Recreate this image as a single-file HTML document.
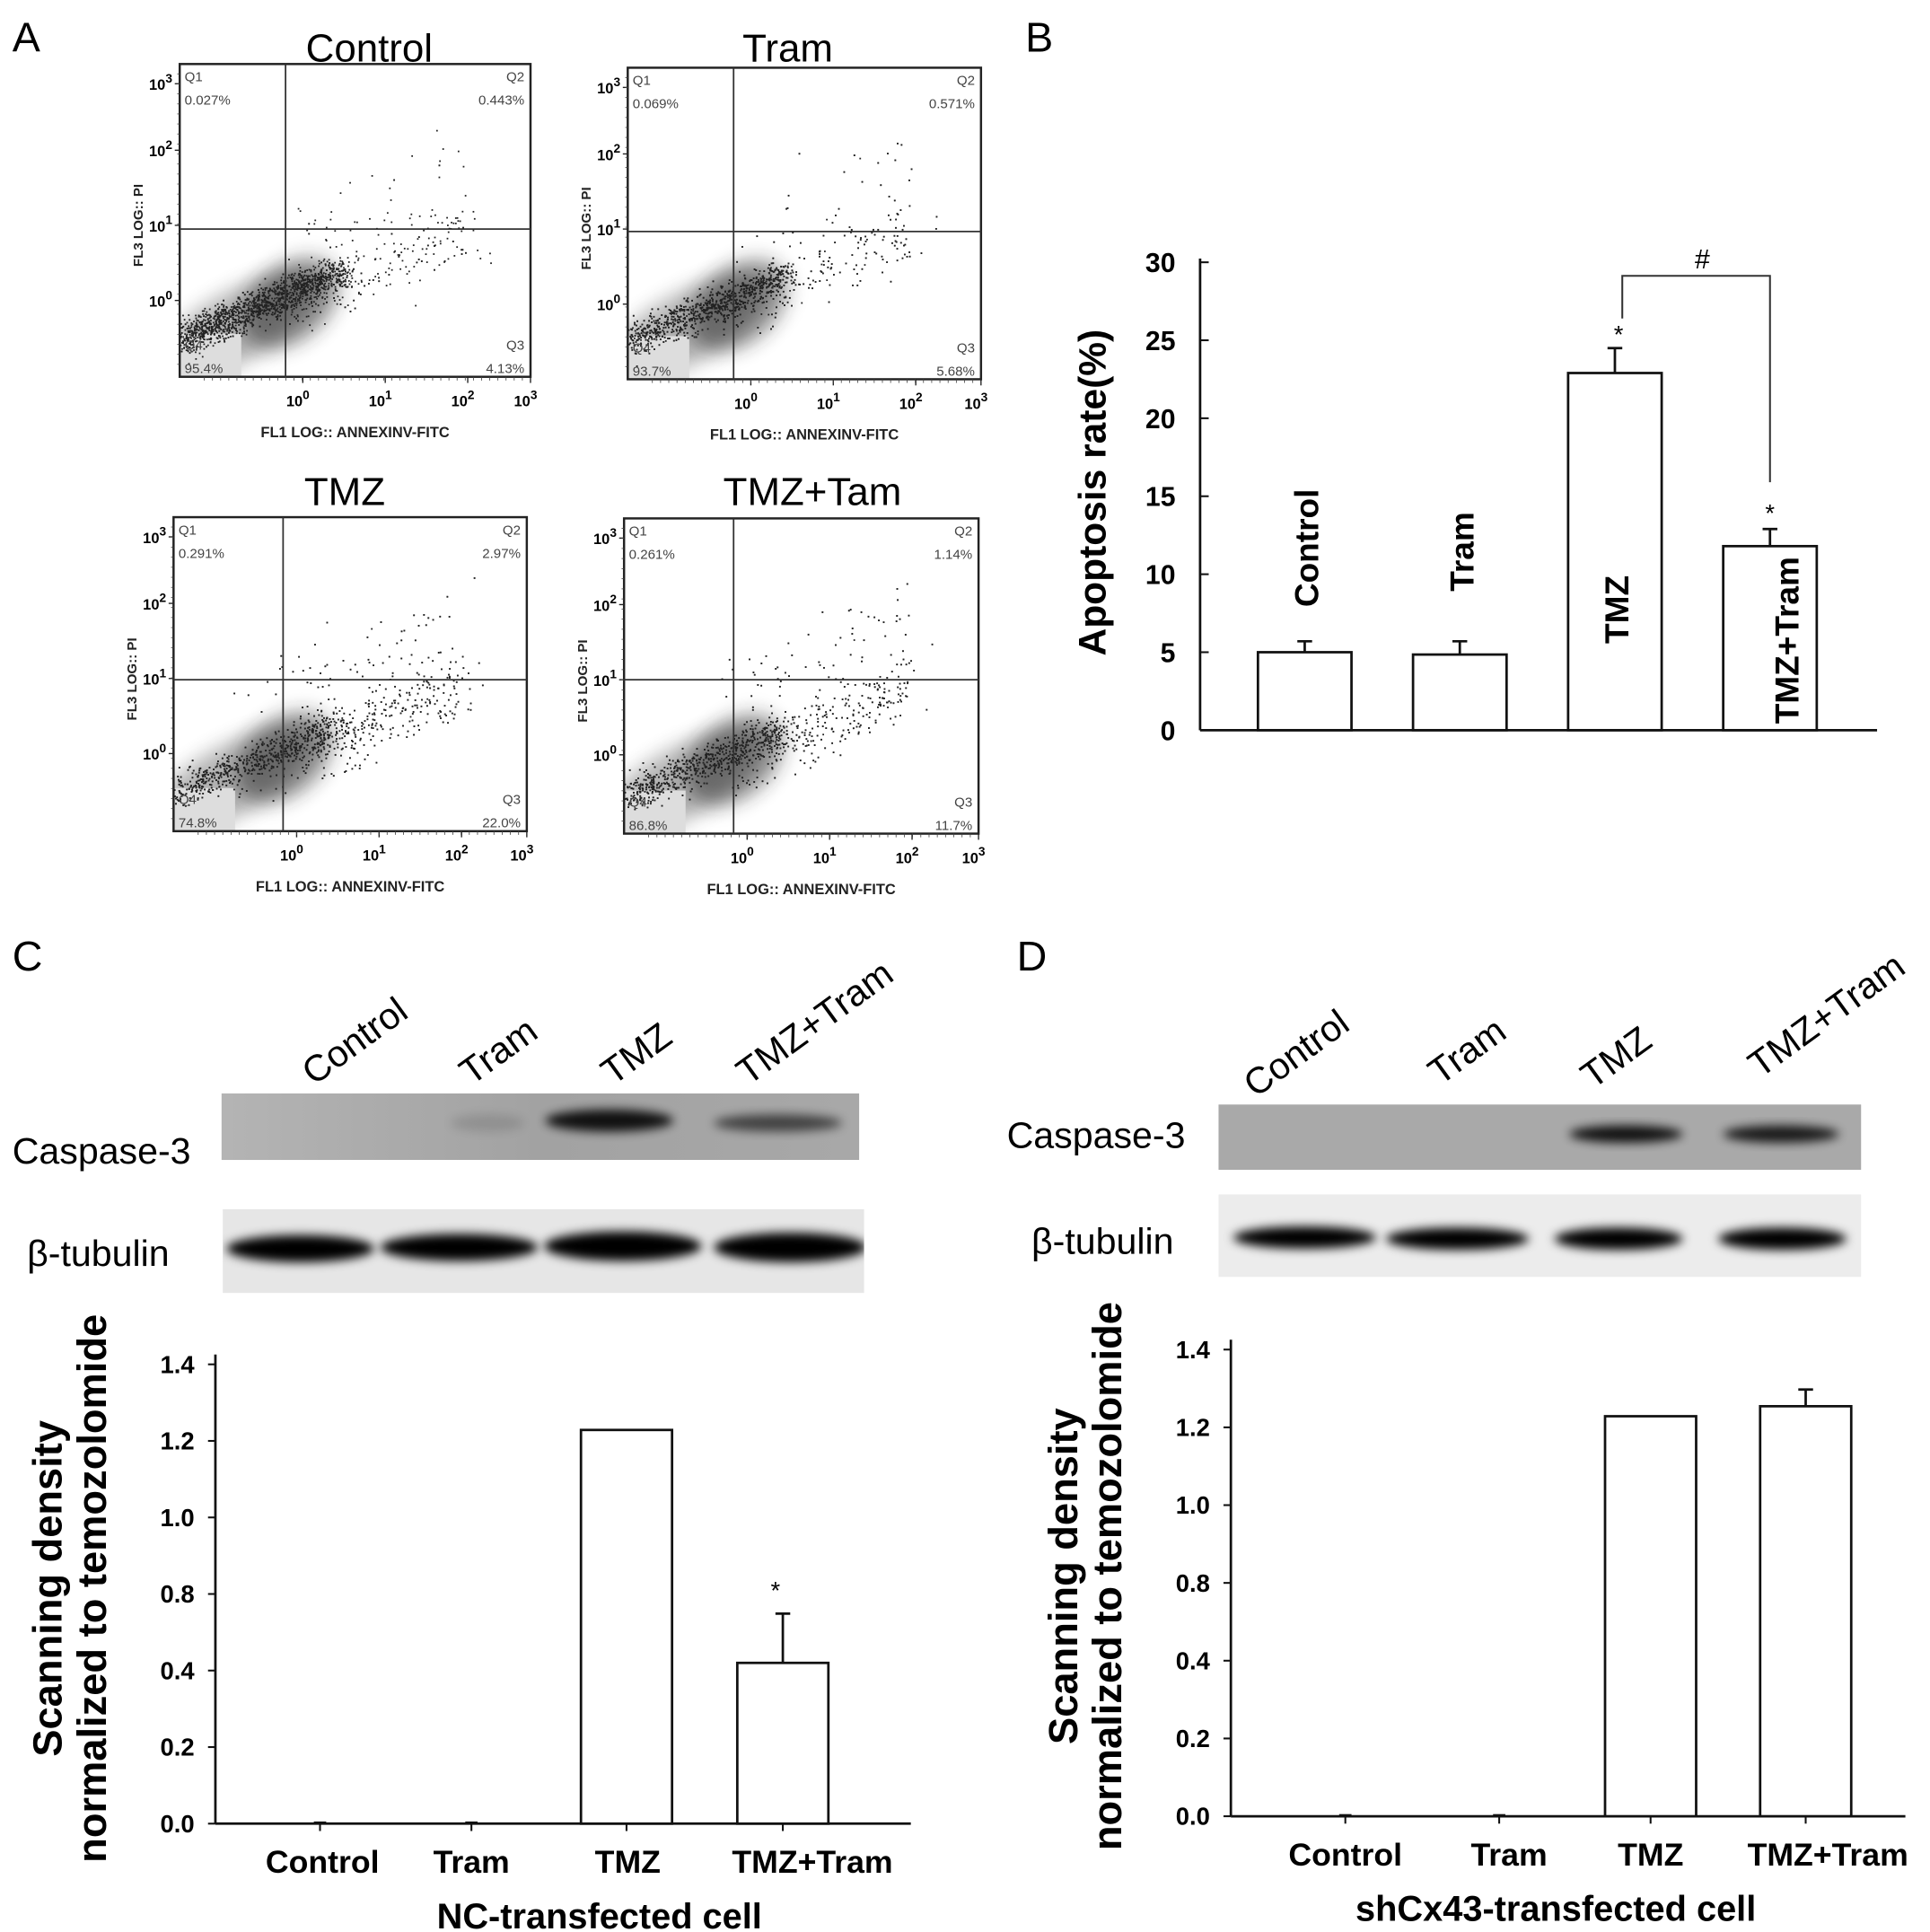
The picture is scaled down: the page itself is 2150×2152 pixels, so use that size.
<!DOCTYPE html>
<html><head><meta charset="utf-8">
<style>
html,body{margin:0;padding:0;background:#fff;}
svg{display:block;font-family:"Liberation Sans",Arial,sans-serif;}
</style></head>
<body>
<svg id="fig" width="2150" height="2152" viewBox="0 0 1568 1569" preserveAspectRatio="none" xmlns="http://www.w3.org/2000/svg">
<defs>
<filter id="blur4" x="-50%" y="-50%" width="200%" height="200%"><feGaussianBlur stdDeviation="4"/></filter>
<filter id="blur8" x="-50%" y="-50%" width="200%" height="200%"><feGaussianBlur stdDeviation="8"/></filter>
<linearGradient id="casC" x1="0" x2="1" y1="0" y2="0"><stop offset="0" stop-color="#b4b4b4"/><stop offset="0.5" stop-color="#a2a2a2"/><stop offset="1" stop-color="#a8a8a8"/></linearGradient>
</defs>
<rect x="0" y="0" width="1568" height="1569" fill="#fff"/>
<g id="panelA"></g>
<g id="panelB"></g>
<g id="panelC"></g>
<g id="panelD"></g>
</svg>
<script>
// ---------- Data ----------
const flowTitles = ["Control", "Tram", "TMZ", "TMZ+Tam"];
const flowQ1 = ["0.027%", "0.069%", "0.291%", "0.261%"];
const flowQ2 = ["0.443%", "0.571%", "2.97%", "1.14%"];
const flowQ3 = ["4.13%", "5.68%", "22.0%", "11.7%"];
const flowQ4 = ["95.4%", "93.7%", "74.8%", "86.8%"];
const bCategories = ["Control", "Tram", "TMZ", "TMZ+Tram"];
const bValues = [5.0, 4.85, 22.9, 11.8];
const bErrors = [0.7, 0.85, 1.6, 1.1];
const bTicks = [0, 5, 10, 15, 20, 25, 30];
const cCategories = ["Control", "Tram", "TMZ", "TMZ+Tram"];
const cValues = [0, 0, 1.2, 0.49];
const cErrors = [0, 0, 0, 0.15];
const cTickLabels = ["0.0", "0.2", "0.4", "0.8", "1.0", "1.2", "1.4"];
const dCategories = ["Control", "Tram", "TMZ", "TMZ+Tram"];
const dValues = [0, 0, 1.2, 1.23];
const dErrors = [0, 0, 0, 0.05];
const dTickLabels = ["0.0", "0.2", "0.4", "0.8", "1.0", "1.2", "1.4"];

const NS = "http://www.w3.org/2000/svg";
function mk(parent, tag, attrs, text) {
  const e = document.createElementNS(NS, tag);
  for (const k in attrs) e.setAttribute(k, attrs[k]);
  if (text !== undefined) e.textContent = text;
  parent.appendChild(e);
  return e;
}

// ---------- Panel A ----------
const pA = document.getElementById("panelA");
const lblA = mk(pA, "text", {x: 10, y: 42, "font-size": 34}, "A");


const boxes = [
  {x: 146, y: 52, w: 285, h: 254, vx: 232, hy: 186, tx: 300, ty: 50},
  {x: 510, y: 55, w: 287, h: 253, vx: 596, hy: 188, tx: 640, ty: 50},
  {x: 141, y: 420, w: 287, h: 255, vx: 230, hy: 552, tx: 280, ty: 410},
  {x: 507, y: 421, w: 288, h: 256, vx: 596, hy: 552, tx: 660, ty: 410}
];
let seed = 12345;
function rnd() { seed = (seed * 1103515245 + 12345) % 2147483648; return seed / 2147483648; }
function gauss() { return (rnd() + rnd() + rnd() + rnd() - 2) / 1.15; }
const apopFrac = [0.15, 0.2, 0.45, 0.35];
boxes.forEach((b, i) => {
  const g = mk(pA, "g", {});
  
  
  const t = mk(g, "text", {x: b.tx, y: b.ty, "text-anchor": "middle", "font-size": 32}, flowTitles[i]);
  
  
  const clip = "clip" + i;
  const cp = mk(g, "clipPath", {id: clip});
  mk(cp, "rect", {x: b.x, y: b.y, width: b.w, height: b.h});
  const dg = mk(g, "g", {"clip-path": "url(#" + clip + ")"});
  const ox = b.x, oy = b.y + b.h;
  mk(dg, "ellipse", {cx: ox + 45, cy: oy - 40, rx: 75, ry: 28, transform: `rotate(-30 ${ox + 45} ${oy - 40})`, fill: "#555", opacity: 0.45, filter: "url(#blur8)"});
  mk(dg, "ellipse", {cx: ox + 90, cy: oy - 60, rx: 45, ry: 30, transform: `rotate(-40 ${ox + 90} ${oy - 60})`, fill: "#222", opacity: 0.5, filter: "url(#blur8)"});
  mk(dg, "rect", {x: ox, y: oy - 35, width: 50, height: 35, fill: "#ddd"});
  const n = 2000;
  for (let k = 0; k < n; k++) {
    let px, py;
    if (rnd() < apopFrac[i]) {
      const s = rnd();
      px = ox + 80 + s * 150 + gauss() * 25;
      py = oy - 50 - s * 70 + gauss() * 25 - (rnd() < 0.25 ? 80 * rnd() : 0);
    } else {
      const s = rnd();
      px = ox + s * 130 + gauss() * 14;
      py = oy - 30 - s * 55 + gauss() * 14;
    }
    if (px < b.x || px > b.x + b.w || py < b.y || py > b.y + b.h) continue;
    mk(dg, "rect", {x: px.toFixed(1), y: py.toFixed(1), width: 1.3, height: 1.3, fill: "#222"});
  }
  mk(g, "rect", {x: b.x, y: b.y, width: b.w, height: b.h, fill: "none", stroke: "#222", "stroke-width": 1.8});
  mk(g, "line", {x1: b.vx, y1: b.y, x2: b.vx, y2: b.y + b.h, stroke: "#333", "stroke-width": 1.3});
  mk(g, "line", {x1: b.x, y1: b.hy, x2: b.x + b.w, y2: b.hy, stroke: "#333", "stroke-width": 1.3});
  const fs = 11, col = "#444";
  mk(g, "text", {x: b.x + 4, y: b.y + 14, "font-size": fs, fill: col}, "Q1");
  mk(g, "text", {x: b.x + 4, y: b.y + 33, "font-size": fs, fill: col}, flowQ1[i]);
  mk(g, "text", {x: b.x + b.w - 5, y: b.y + 14, "font-size": fs, fill: col, "text-anchor": "end"}, "Q2");
  mk(g, "text", {x: b.x + b.w - 5, y: b.y + 33, "font-size": fs, fill: col, "text-anchor": "end"}, flowQ2[i]);
  mk(g, "text", {x: b.x + 4, y: b.y + b.h - 22, "font-size": fs, fill: col}, "Q4");
  mk(g, "text", {x: b.x + 4, y: b.y + b.h - 3, "font-size": fs, fill: col}, flowQ4[i]);
  mk(g, "text", {x: b.x + b.w - 5, y: b.y + b.h - 22, "font-size": fs, fill: col, "text-anchor": "end"}, "Q3");
  mk(g, "text", {x: b.x + b.w - 5, y: b.y + b.h - 3, "font-size": fs, fill: col, "text-anchor": "end"}, flowQ3[i]);
  const ys = [b.y + 16, b.y + 70, b.y + 131, b.y + 192];
  ["3", "2", "1", "0"].forEach((p, j) => {
    const tt = mk(g, "text", {x: b.x - 6, y: ys[j] + 5, "font-size": 12, "text-anchor": "end", "font-weight": "bold"}, "10");
    mk(tt, "tspan", {dy: -6, "font-size": 10}, p);
    mk(g, "line", {x1: b.x - 4, y1: ys[j], x2: b.x, y2: ys[j], stroke: "#222"});
  });
  for (let k = 0; k < 30; k++) {
    const yy = b.y + 8 + k * (b.h - 10) / 30;
    mk(g, "line", {x1: b.x - 2, y1: yy, x2: b.x, y2: yy, stroke: "#444", "stroke-width": 0.6});
  }
  const xs = [b.x + 100, b.x + 167, b.x + 234, b.x + b.w];
  ["0", "1", "2", "3"].forEach((p, j) => {
    const tt = mk(g, "text", {x: xs[j] - 4, y: b.y + b.h + 24, "font-size": 12, "text-anchor": "middle", "font-weight": "bold"}, "10");
    mk(tt, "tspan", {dy: -6, "font-size": 10}, p);
    mk(g, "line", {x1: xs[j], y1: b.y + b.h, x2: xs[j], y2: b.y + b.h + 5, stroke: "#222"});
  });
  for (let k = 0; k < 40; k++) {
    const xx = b.x + 20 + k * (b.w - 20) / 40;
    mk(g, "line", {x1: xx, y1: b.y + b.h, x2: xx, y2: b.y + b.h + 3, stroke: "#444", "stroke-width": 0.6});
  }
  const xl = mk(g, "text", {x: b.x + b.w / 2, y: b.y + b.h + 49, "font-size": 12, "text-anchor": "middle", "font-weight": "bold", fill: "#222"}, "FL1 LOG:: ANNEXINV-FITC");
  
  
  const cy = b.y + b.h / 2 + 4;
  const yl = mk(g, "text", {x: b.x - 30, y: cy, "font-size": 11, "text-anchor": "middle", "font-weight": "bold", fill: "#222", transform: `rotate(-90 ${b.x - 30} ${cy})`}, "FL3 LOG:: PI");
  
  
});

// ---------- Panel B ----------
const pB = document.getElementById("panelB");
const lblB = mk(pB, "text", {x: 833, y: 42, "font-size": 34}, "B");


const bX0 = 975, bX1 = 1525, bY0 = 593, bY1 = 213, bMax = 30;
function byScale(v) { return bY0 - v / bMax * (bY0 - bY1); }
const bCenters = [1060, 1186, 1312, 1438], bW = 76;
mk(pB, "line", {x1: bX0, y1: bY1 - 3, x2: bX0, y2: bY0, stroke: "#111", "stroke-width": 2});
mk(pB, "line", {x1: bX0, y1: bY0, x2: bX1, y2: bY0, stroke: "#111", "stroke-width": 2});
bTicks.forEach(t => {
  const y = byScale(t);
  mk(pB, "line", {x1: bX0, y1: y, x2: bX0 + 7, y2: y, stroke: "#111", "stroke-width": 1.5});
  const tl = mk(pB, "text", {x: 955, y: y + 8, "font-size": 22, "font-weight": "bold", "text-anchor": "end"}, t);
  
  
});
const bTitle = mk(pB, "text", {x: 898, y: 400, "font-size": 31, "font-weight": "bold", "text-anchor": "middle", transform: "rotate(-90 898 400)"}, "Apoptosis rate(%)");


const bLabelY = [445, 448, 495, 520];
bCategories.forEach((c, i) => {
  const cx = bCenters[i], top = byScale(bValues[i]), et = byScale(bValues[i] + bErrors[i]);
  const r = mk(pB, "rect", {x: cx - bW / 2, y: top, width: bW, height: bY0 - top, fill: "#fff", stroke: "#111", "stroke-width": 2});
  
  
  mk(pB, "line", {x1: cx, y1: top, x2: cx, y2: et, stroke: "#111", "stroke-width": 2});
  mk(pB, "line", {x1: cx - 6, y1: et, x2: cx + 6, y2: et, stroke: "#111", "stroke-width": 2});
  const lx = cx + 2 + (i === 3 ? 12 : 0), ly = bLabelY[i];
  const cl = mk(pB, "text", {x: lx, y: ly, "font-size": 27, "font-weight": "bold", "text-anchor": "middle", transform: `rotate(-90 ${lx} ${ly})`, dy: 9}, c);
  
  
});
const s1 = byScale(bValues[2] + bErrors[2]) - 8, s2 = byScale(bValues[3] + bErrors[3]) - 10;
mk(pB, "text", {x: bCenters[2] + 3, y: s1 + 4, "font-size": 20, "text-anchor": "middle"}, "*");
mk(pB, "text", {x: bCenters[3], y: s2 + 4, "font-size": 20, "text-anchor": "middle"}, "*");
const br = mk(pB, "polyline", {points: `${bCenters[2] + 6},${s1 - 16} ${bCenters[2] + 6},224 ${bCenters[3]},224 ${bCenters[3]},${s2 - 28}`, fill: "none", stroke: "#333", "stroke-width": 1.5});


mk(pB, "text", {x: 1383, y: 218, "font-size": 22, "text-anchor": "middle"}, "#");

// ---------- Blots + charts C/D ----------
function blot(parent, cfg) {
  const g = mk(parent, "g", {});
  
  
  mk(g, "rect", {x: cfg.x, y: cfg.y, width: cfg.w, height: cfg.h, fill: cfg.fill});
  const cp = mk(g, "clipPath", {id: cfg.name + "-clip"});
  mk(cp, "rect", {x: cfg.x, y: cfg.y, width: cfg.w, height: cfg.h});
  const bg = mk(g, "g", {"clip-path": `url(#${cfg.name}-clip)`});
  cfg.bands.forEach(bd => {
    mk(bg, "ellipse", {cx: bd[0], cy: bd[1], rx: bd[2], ry: bd[3], fill: "#000", opacity: bd[4], filter: "url(#blur4)"});
  });
  return g;
}
function barChart(parent, cfg) {
  const g = mk(parent, "g", {});
  
  
  const n = cfg.ticks.length - 1;
  const ys = v => cfg.y0 - v / cfg.max * (cfg.y0 - cfg.y1);
  mk(g, "line", {x1: cfg.x0, y1: cfg.y1 - 8, x2: cfg.x0, y2: cfg.y0, stroke: "#111", "stroke-width": 2});
  mk(g, "line", {x1: cfg.x0, y1: cfg.y0, x2: cfg.x1, y2: cfg.y0, stroke: "#111", "stroke-width": 2});
  cfg.ticks.forEach((t, j) => {
    const y = cfg.y0 - j / n * (cfg.y0 - cfg.y1);
    mk(g, "line", {x1: cfg.x0, y1: y, x2: cfg.x0 - 6, y2: y, stroke: "#111", "stroke-width": 1.5});
    const tl = mk(g, "text", {x: cfg.x0 - 17, y: y + 7, "font-size": 20, "font-weight": "bold", "text-anchor": "end"}, t);
    
    
  });
  cfg.cats.forEach((c, i) => {
    const cx = cfg.centers[i];
    mk(g, "line", {x1: cx, y1: cfg.y0, x2: cx, y2: cfg.y0 + 6, stroke: "#111", "stroke-width": 1.5});
    if (cfg.vals[i] > 0) {
      const top = ys(cfg.vals[i]);
      const r = mk(g, "rect", {x: cx - 37, y: top, width: 74, height: cfg.y0 - top, fill: "#fff", stroke: "#111", "stroke-width": 2});
      
      
      if (cfg.errs[i] > 0) {
        const et = ys(cfg.vals[i] + cfg.errs[i]);
        mk(g, "line", {x1: cx, y1: top, x2: cx, y2: et, stroke: "#111", "stroke-width": 2});
        mk(g, "line", {x1: cx - 6, y1: et, x2: cx + 6, y2: et, stroke: "#111", "stroke-width": 2});
      }
    } else {
      mk(g, "line", {x1: cx - 5, y1: cfg.y0 - 1, x2: cx + 5, y2: cfg.y0 - 1, stroke: "#111", "stroke-width": 1.5});
    }
    const cl = mk(g, "text", {x: cfg.labelX[i], y: cfg.y0 + 40, "font-size": 26, "font-weight": "bold", "text-anchor": "middle"}, c);
    
    
  });
  if (cfg.star) {
    const et = ys(cfg.vals[3] + cfg.errs[3]);
    mk(g, "text", {x: cfg.centers[3] - 6, y: et - 12, "font-size": 20, "text-anchor": "middle"}, "*");
  }
  const xt = mk(g, "text", {x: cfg.xtX, y: cfg.y0 + 85, "font-size": 29, "font-weight": "bold", "text-anchor": "middle"}, cfg.xtitle);
  
  
  const cy = cfg.ytY;
  const y1 = mk(g, "text", {x: cfg.ytX, y: cy, "font-size": 33, "font-weight": "bold", "text-anchor": "middle", transform: `rotate(-90 ${cfg.ytX} ${cy})`}, "Scanning density");
  
  
  const y2 = mk(g, "text", {x: cfg.ytX + 36, y: cy, "font-size": 33, "font-weight": "bold", "text-anchor": "middle", transform: `rotate(-90 ${cfg.ytX + 36} ${cy})`}, "normalized to temozolomide");
  
  
}
function laneLabels(parent, cats, pos) {
  cats.forEach((c, i) => {
    const t = mk(parent, "text", {x: pos[i][0], y: pos[i][1], "font-size": 30, transform: `rotate(-36 ${pos[i][0]} ${pos[i][1]})`}, c);
    
    
  });
}

// Panel C
const pC = document.getElementById("panelC");
const lblC = mk(pC, "text", {x: 10, y: 788, "font-size": 34}, "C");


laneLabels(pC, cCategories, [[255, 882], [383, 882], [498, 882], [608, 882]]);
blot(pC, {name: "blot-c-caspase3", x: 180, y: 888, w: 518, h: 54, fill: "url(#casC)",
  bands: [[396, 912, 30, 7, 0.12], [495, 910, 52, 9, 0.9], [632, 912, 52, 7, 0.6]]});
blot(pC, {name: "blot-c-tubulin", x: 181, y: 982, w: 521, h: 68, fill: "#e6e6e6",
  bands: [[244, 1014, 60, 11, 1], [373, 1013, 64, 11, 1], [506, 1012, 64, 12, 1], [642, 1013, 62, 12, 1]]});
const tcC1 = mk(pC, "text", {x: 10, y: 945, "font-size": 30}, "Caspase-3");


const tcC2 = mk(pC, "text", {x: 22, y: 1028, "font-size": 30}, "β-tubulin");


barChart(pC, {name: "chart-c", x0: 175, x1: 740, y0: 1481, y1: 1108, max: 1.4, ticks: cTickLabels,
  cats: cCategories, vals: cValues, errs: cErrors, centers: [260, 383, 509, 636], labelX: [262, 383, 510, 660],
  star: true, xtitle: "NC-transfected cell", xtX: 487, ytX: 50, ytY: 1290});

// Panel D
const pD = document.getElementById("panelD");
const lblD = mk(pD, "text", {x: 826, y: 788, "font-size": 34}, "D");


laneLabels(pD, dCategories, [[1020, 892], [1170, 882], [1294, 885], [1430, 876]]);
blot(pD, {name: "blot-d-caspase3", x: 990, y: 897, w: 522, h: 53, fill: "#a9a9a9",
  bands: [[1321, 921, 46, 7, 0.9], [1447, 921, 47, 7, 0.85]]});
blot(pD, {name: "blot-d-tubulin", x: 990, y: 970, w: 522, h: 67, fill: "#ececec",
  bands: [[1060, 1005, 58, 9, 1], [1184, 1006, 58, 9, 1], [1315, 1006, 52, 9, 1], [1448, 1006, 52, 9, 1]]});
const tdD1 = mk(pD, "text", {x: 818, y: 932, "font-size": 30}, "Caspase-3");


const tdD2 = mk(pD, "text", {x: 838, y: 1018, "font-size": 30}, "β-tubulin");


barChart(pD, {name: "chart-d", x0: 1000, x1: 1548, y0: 1475, y1: 1096, max: 1.4, ticks: dTickLabels,
  cats: dCategories, vals: dValues, errs: dErrors, centers: [1093, 1218, 1341, 1467], labelX: [1093, 1226, 1341, 1485],
  star: false, xtitle: "shCx43-transfected cell", xtX: 1264, ytX: 875, ytY: 1280});
</script>
</body></html>
